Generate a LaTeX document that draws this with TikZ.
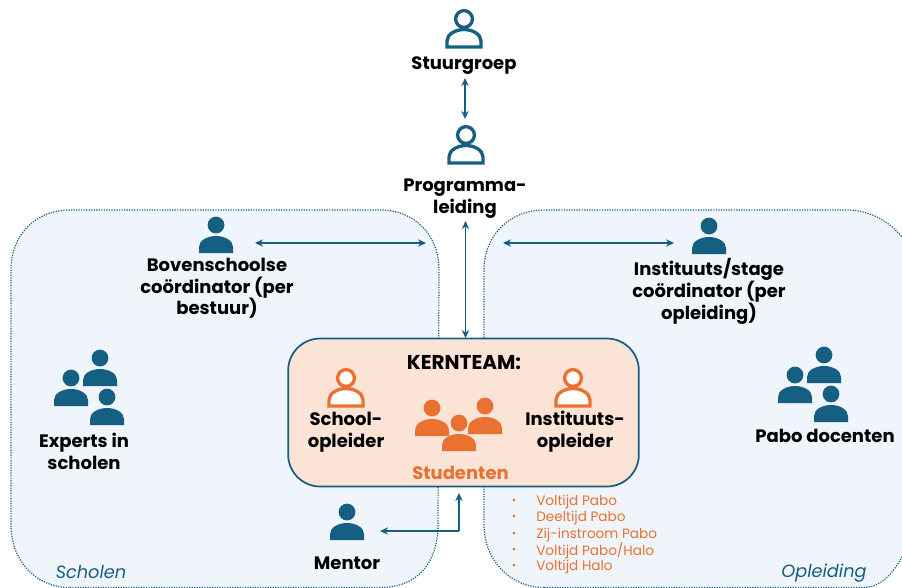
\documentclass[tikz,border=0pt]{standalone}
\usepackage{fontspec}
\setmainfont{Poppins}
\usetikzlibrary{arrows.meta}
\definecolor{teal1}{HTML}{156082}
\definecolor{orange1}{HTML}{E97132}
\definecolor{panel}{HTML}{F0F4FB}
\definecolor{peach}{HTML}{FBE3D6}
\tikzset{
  x=0.75pt,y=-0.75pt,
  lab/.style={font=\bfseries\fontsize{13.5}{16.2}\selectfont,align=center,text=black,inner sep=0pt},
  orangelab/.style={lab,text=orange1},
  biglab/.style={lab,font=\bfseries\fontsize{15}{18}\selectfont},
  listlab/.style={font=\fontsize{10.2}{12}\selectfont,text=orange1,anchor=west,inner sep=0pt},
  italab/.style={font=\itshape\fontsize{13.3}{15}\selectfont,text=teal1,inner sep=0pt},
  arrowline/.style={draw=teal1,line width=1.4pt,{Stealth[length=6pt,width=5.5pt]}-{Stealth[length=6pt,width=5.5pt]}},
  onearrow/.style={draw=teal1,line width=1.4pt,-{Stealth[length=6pt,width=5.5pt]}},
  region/.style={draw=teal1,fill=panel,line width=0.9pt,densely dotted},
  pics/solidperson/.style={code={
    \fill[#1] (0,0) circle (8.4);
    \fill[#1] (-17,28) -- (-17,22) .. controls (-17,15) and (-8,11) .. (0,11) .. controls (8,11) and (17,15) .. (17,22) -- (17,28) -- cycle;
  }},
  pics/lineperson/.style={code={
    \draw[#1,line width=2.5pt,fill=white] (0,0) circle (8.4);
    \draw[#1,line width=2.5pt,fill=white] (-17,28) -- (-17,22) .. controls (-17,15) and (-8,10.5) .. (0,10.5) .. controls (8,10.5) and (17,15) .. (17,22) -- (17,28) -- cycle;
  }},
}
\begin{document}
\begin{tikzpicture}
\useasboundingbox (0,0) rectangle (902,587);
\fill[white] (0,0) rectangle (902,587);
% regions
\begin{scope}
\clip (0,0) rectangle (902,587);
\draw[region] (70,587.5) -- (380,587.5)
  .. controls (420,587.5) and (438,560) .. (438,525) -- (439,270)
  .. controls (439,235) and (415,210) .. (380,210) -- (70,210)
  .. controls (35,210) and (11,235) .. (11,270) -- (11,525)
  .. controls (11,560) and (35,587.5) .. (70,587.5);
\draw[region] (544,587.5) .. controls (510,587.5) and (484,560) .. (484,525) -- (484,270)
  .. controls (484,235) and (510,210) .. (544,210) -- (847,210)
  .. controls (870,210) and (890,222) .. (902,237) -- (912,250) -- (912,530) -- (902,557)
  .. controls (892,575) and (880,587.5) .. (863,587.5) -- (544,587.5);
\end{scope}
% core team
\node[draw=teal1,fill=peach,line width=1.3pt,rounded corners=24,minimum width=263pt,minimum height=111pt,inner sep=0pt] (kern) at (463.5,412.5) {};
% people icons
\pic at (464,19) {lineperson=teal1};
\pic at (466,135) {lineperson=teal1};
\pic at (216,225) {solidperson=teal1};
\pic at (709,226) {solidperson=teal1};
\pic at (346,378) {lineperson=orange1};
\pic at (573,378) {lineperson=orange1};
\pic at (347,512) {solidperson=teal1};
\pic at (100,358) {solidperson=teal1};
\pic at (71,378) {solidperson=teal1};
\pic at (107,397) {solidperson=teal1};
\pic at (824,355) {solidperson=teal1};
\pic at (795,375) {solidperson=teal1};
\pic at (831,394) {solidperson=teal1};
\pic at (432,408) {solidperson=orange1};
\pic at (485,406) {solidperson=orange1};
\pic at (459,423) {solidperson=orange1};
% labels
\node[lab] (stuur) at (464,65.5) {Stuurgroep};
\node[lab] (prog) at (465,198.5) {Programma-\\leiding};
\node[lab] (boven) at (217,288.5) {Bovenschoolse\\coördinator (per\\bestuur)};
\node[lab] (inst) at (709,291.5) {Instituuts/stage\\coördinator (per\\opleiding)};
\node[lab] (exp) at (84,451.5) {Experts in\\scholen};
\node[lab] (pabo) at (825,436) {Pabo docenten};
\node[biglab] (kt) at (464,362.5) {KERNTEAM:};
\node[lab] (so) at (346,432.5) {School-\\opleider};
\node[lab] (io) at (575,431.5) {Instituuts-\\opleider};
\node[orangelab] (stud) at (460.5,473) {Studenten};
\node[lab] (ment) at (347,563) {Mentor};
\node[italab] (sch) at (91,572.5) {Scholen};
\node[italab] (opl) at (824,573) {Opleiding};
\foreach \y/\t in {502/{Voltijd Pabo},518/{Deeltijd Pabo},535/{Zij-instroom Pabo},551/{Voltijd Pabo/Halo},567/{Voltijd Halo}}{
  \node[listlab] at (536,\y) {\t};
  \fill[orange1] (514,\y-2) circle (1.5);
}
% connectors
\coordinate (a1) at (465,78); \coordinate (a2) at (465,119);
\draw[arrowline] (a1) -- (a2);
\coordinate (b1) at (255,243); \coordinate (b2) at (426,243);
\draw[arrowline] (b1) -- (b2);
\coordinate (c1) at (503,243); \coordinate (c2) at (674,243);
\draw[arrowline] (c1) -- (c2);
\coordinate (d1) at (465.5,221);
\draw[arrowline] (d1) -- (465.5,338);
\coordinate (m1) at (380,531); \coordinate (m2) at (459,493);
\draw[onearrow] (459,531) -- (m1);
\draw[onearrow] (459,531) -- (m2);
\end{tikzpicture}
\end{document}
